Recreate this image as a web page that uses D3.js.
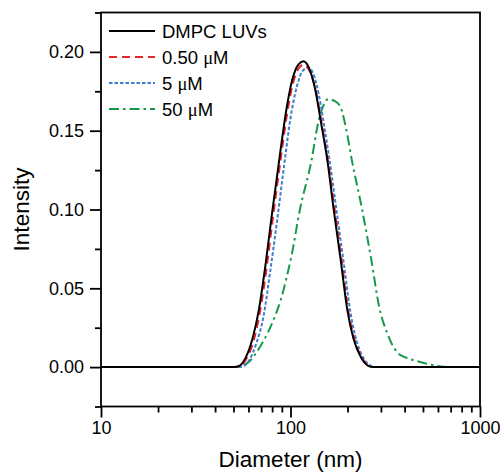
<!DOCTYPE html>
<html>
<head>
<meta charset="utf-8">
<script src="https://cdn.jsdelivr.net/npm/d3@7"></script>
<style>
  body { margin: 0; background: #fff; }
  svg { display: block; font-family: "Liberation Sans", Arial, sans-serif; }
</style>
</head>
<body>
<div id="chart"></div>
<script>
// diameters (nm) and intensities
const dmpcD   = [10, 50, 54, 58, 63, 68, 74, 80, 88, 95, 102, 110, 117, 125, 134, 145, 157, 169, 184, 199, 215, 236, 255, 270, 1000];
const dmpcI   = [0, 0, 0.001, 0.006, 0.018, 0.036, 0.066, 0.098, 0.135, 0.163, 0.182, 0.192, 0.194, 0.190, 0.178, 0.155, 0.130, 0.100, 0.068, 0.037, 0.018, 0.006, 0.001, 0, 0];

const c050D   = [10, 51, 55, 59, 64, 69, 75, 81, 89, 96, 103, 111, 118, 126, 135, 146, 158, 171, 186, 201, 217, 238, 257, 272, 1000];
const c050I   = [0, 0, 0.001, 0.006, 0.017, 0.035, 0.064, 0.096, 0.133, 0.161, 0.180, 0.190, 0.192, 0.188, 0.177, 0.155, 0.130, 0.100, 0.068, 0.037, 0.018, 0.006, 0.001, 0, 0];

const c5D     = [10, 53, 57, 61, 66, 72, 78, 85, 93, 100, 108, 116, 124, 132, 141, 152, 164, 177, 192, 207, 224, 245, 265, 280, 1000];
const c5I     = [0, 0, 0.001, 0.005, 0.015, 0.032, 0.060, 0.093, 0.130, 0.158, 0.178, 0.188, 0.190, 0.186, 0.173, 0.150, 0.124, 0.095, 0.064, 0.035, 0.016, 0.005, 0.001, 0, 0];

const c50D    = [10, 50, 55, 60, 65, 70, 76, 82, 89, 95, 101, 112, 129, 140, 148, 158, 170, 182, 196, 211, 239, 267, 294, 325, 368, 401, 460, 532, 682, 1000];
const c50I    = [0, 0, 0.0005, 0.003, 0.008, 0.014, 0.022, 0.031, 0.043, 0.056, 0.070, 0.0997, 0.131, 0.155, 0.165, 0.170, 0.169, 0.166, 0.152, 0.131, 0.0997, 0.068, 0.038, 0.021, 0.009, 0.0063, 0.004, 0.0019, 0, 0];

const seriesNames = ["DMPC LUVs", "0.50 μM", "5 μM", "50 μM"];
const xMajor = [10, 100, 1000];
const xMinor = [20, 30, 40, 50, 60, 70, 80, 90, 200, 300, 400, 500, 600, 700, 800, 900];
const yMajor = [0, 0.05, 0.10, 0.15, 0.20];
const yMinor = [-0.025, 0.025, 0.075, 0.125, 0.175, 0.225];

const series = [
  { name: seriesNames[0], d: dmpcD, v: dmpcI, color: "#000000", dash: null },
  { name: seriesNames[1], d: c050D, v: c050I, color: "#e8242b", dash: "8,5" },
  { name: seriesNames[2], d: c5D,   v: c5I,   color: "#3a7fd0", dash: "3.5,2" },
  { name: seriesNames[3], d: c50D,  v: c50I,  color: "#17994a", dash: "10,4,2.5,4" }
];

const W = 500, H = 472;
const plot = { left: 101, right: 480, top: 12.5, bottom: 406.5 };

const svg = d3.select("#chart").append("svg")
  .attr("width", W).attr("height", H);

const x = d3.scaleLog().domain([10, 1000]).range([plot.left, plot.right]);
const y = d3.scaleLinear().domain([-0.025, 0.225]).range([plot.bottom, plot.top]);

// curves, clipped to the frame
svg.append("clipPath").attr("id", "clip")
  .append("rect")
  .attr("x", plot.left).attr("y", plot.top)
  .attr("width", plot.right - plot.left).attr("height", plot.bottom - plot.top);

const line = d3.line()
  .x(p => x(p[0]))
  .y(p => y(p[1]))
  .curve(d3.curveMonotoneX);

const curves = svg.append("g").attr("clip-path", "url(#clip)");
// green first so black ends on top like the original
series.slice().reverse().forEach(s => {
  curves.append("path")
    .datum(s.d.map((d, i) => [d, s.v[i]]))
    .attr("fill", "none")
    .attr("stroke", s.color)
    .attr("stroke-width", 2)
    .attr("stroke-dasharray", s.dash)
    .attr("d", line);
});

// axes
const fontSize = 18;
svg.append("g")
  .attr("transform", `translate(0,${plot.bottom})`)
  .call(d3.axisBottom(x).tickValues(xMajor).tickFormat(d3.format("d"))
    .tickSize(11).tickSizeOuter(0).tickPadding(4));
svg.append("g")
  .attr("transform", `translate(0,${plot.bottom})`)
  .call(d3.axisBottom(x).tickValues(xMinor).tickFormat("").tickSize(6).tickSizeOuter(0));

svg.append("g")
  .attr("transform", `translate(${plot.left},0)`)
  .call(d3.axisLeft(y).tickValues(yMajor).tickFormat(d3.format(".2f"))
    .tickSize(11).tickSizeOuter(0).tickPadding(6));
svg.append("g")
  .attr("transform", `translate(${plot.left},0)`)
  .call(d3.axisLeft(y).tickValues(yMinor).tickFormat("").tickSize(6).tickSizeOuter(0));

svg.selectAll(".domain").remove();
svg.selectAll(".tick line").attr("stroke", "#000").attr("stroke-width", 1.8);
svg.selectAll(".tick text")
  .attr("fill", "#000")
  .style("font-size", fontSize + "px")
  .style("font-family", "'Liberation Sans', Arial, sans-serif");

// frame
svg.append("rect")
  .attr("x", plot.left).attr("y", plot.top)
  .attr("width", plot.right - plot.left).attr("height", plot.bottom - plot.top)
  .attr("fill", "none")
  .attr("stroke", "#000")
  .attr("stroke-width", 1.8);

// axis titles
svg.append("text")
  .attr("x", (plot.left + plot.right) / 2)
  .attr("y", 467)
  .attr("text-anchor", "middle")
  .style("font-size", "22.5px")
  .text("Diameter (nm)");

svg.append("text")
  .attr("transform", `translate(29,${(plot.top + plot.bottom) / 2}) rotate(-90)`)
  .attr("text-anchor", "middle")
  .style("font-size", "22.5px")
  .text("Intensity");

// legend
const legend = svg.append("g").attr("transform", "translate(109,31)");
series.forEach((s, i) => {
  const row = legend.append("g").attr("transform", `translate(0,${i * 26})`);
  row.append("line")
    .attr("x1", 0).attr("x2", 46)
    .attr("y1", 0).attr("y2", 0)
    .attr("stroke", s.color)
    .attr("stroke-width", 2)
    .attr("stroke-dasharray", s.dash);
  const t = row.append("text")
    .attr("x", 53)
    .attr("y", 6.5)
    .style("font-size", "18.5px");
  // the micro sign in the original comes from a serif symbol font
  const parts = s.name.split("μ");
  t.append("tspan").text(parts[0]);
  if (parts.length > 1) {
    t.append("tspan").style("font-family", "'Liberation Serif', serif").text("μ");
    t.append("tspan").text(parts[1]);
  }
});
</script>
</body>
</html>
